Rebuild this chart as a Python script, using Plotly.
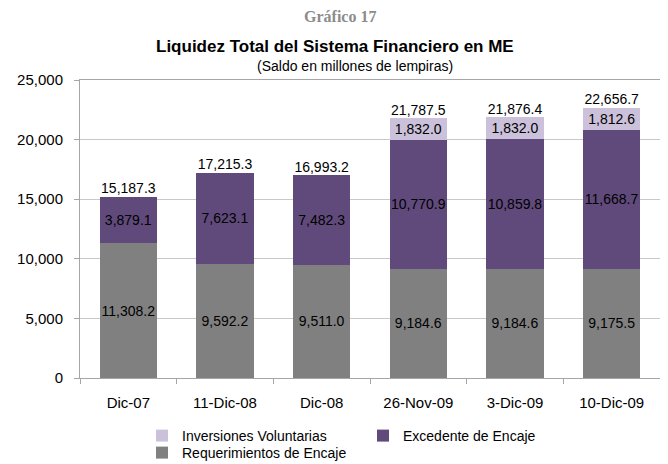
import plotly.graph_objects as go

# datos del grafico (millones de lempiras)
fechas = ['Dic-07', '11-Dic-08', 'Dic-08', '26-Nov-09', '3-Dic-09', '10-Dic-09']
requerimientos = [11308.2, 9592.2, 9511.0, 9184.6, 9184.6, 9175.5]
excedente = [3879.1, 7623.1, 7482.3, 10770.9, 10859.8, 11668.7]
inversiones = [None, None, None, 1832.0, 1832.0, 1812.6]
totales = [15187.3, 17215.3, 16993.2, 21787.5, 21876.4, 22656.7]
y_ticks = [0, 5000, 10000, 15000, 20000, 25000]

fuente = 'Liberation Sans, Arial, sans-serif'
gris = '#808080'
morado = '#604A7B'
lila = '#CCC1DA'

fig = go.Figure()
fig.add_trace(
    go.Bar(x=fechas, y=requerimientos, name='Requerimientos de Encaje',
           marker=dict(color=gris, line=dict(width=0)),
           texttemplate='%{y:,.1f}', textposition='inside', insidetextanchor='middle',
           textangle=0, constraintext='none',
           textfont=dict(color='black', size=14), legend='legend2')
)
fig.add_trace(
    go.Bar(x=fechas, y=excedente, name='Excedente de Encaje',
           marker=dict(color=morado, line=dict(width=0)),
           texttemplate='%{y:,.1f}', textposition='inside', insidetextanchor='middle',
           textangle=0, constraintext='none',
           textfont=dict(color='black', size=14), legendrank=2)
)
fig.add_trace(
    go.Bar(x=fechas, y=inversiones, name='Inversiones Voluntarias',
           marker=dict(color=lila, line=dict(width=0)),
           texttemplate='%{y:,.1f}', textposition='inside', insidetextanchor='middle',
           textangle=0, constraintext='none',
           textfont=dict(color='black', size=14), legendrank=1)
)
fig.add_trace(
    go.Scatter(x=fechas, y=totales, mode='text', text=[f'{t:,.1f}' for t in totales],
               textposition='top center', textfont=dict(color='black', size=14),
               showlegend=False, hoverinfo='skip')
)

# la pagina deja 8px de margen, el area del grafico queda en 80..660 x 80..378
alto_plot = 298
ancho_plot = 580

def px_x(p):
    return (p - 80) / ancho_plot

def px_y(p):
    return 1 + (80 - p) / alto_plot

fig.update_layout(
    width=660, height=456,
    barmode='stack', bargap=0.41,
    font=dict(family=fuente, size=14, color='black'),
    paper_bgcolor='white', plot_bgcolor='white',
    margin=dict(l=72, r=8, t=72, b=86, autoexpand=False),
    legend=dict(orientation='h', x=px_x(142), xanchor='left', y=px_y(436), yanchor='middle',
                entrywidth=176, font=dict(size=14), traceorder='normal',
                bgcolor='rgba(0,0,0,0)'),
    legend2=dict(orientation='h', x=px_x(142), xanchor='left', y=px_y(453), yanchor='middle',
                 font=dict(size=14), bgcolor='rgba(0,0,0,0)'),
    annotations=[
        dict(text='<b>Gráfico 17</b>', x=px_x(340), y=px_y(16), xref='paper', yref='paper',
             xanchor='center', yanchor='middle', showarrow=False,
             font=dict(family='Liberation Serif, Times New Roman, serif',
                       size=16, color='#8C8C8C')),
        dict(text='<b>Liquidez Total del Sistema Financiero en ME</b>', x=px_x(335), y=px_y(46),
             xref='paper', yref='paper', xanchor='center', yanchor='middle',
             showarrow=False, font=dict(size=17)),
        dict(text='(Saldo en millones de lempiras)', x=px_x(355), y=px_y(66),
             xref='paper', yref='paper', xanchor='center', yanchor='middle',
             showarrow=False, font=dict(size=14)),
    ],
)

fig.update_xaxes(
    showline=True, linecolor='#A6A6A6', linewidth=1, mirror=True,
    ticks='outside', tickson='boundaries', ticklen=5, tickcolor='#A6A6A6',
    tickfont=dict(size=15), showgrid=False, ticklabelstandoff=11,
)
fig.update_yaxes(
    range=[0, 25000], tickvals=y_ticks, tickformat=',',
    showline=True, linecolor='#A6A6A6', linewidth=1, mirror=True,
    ticks='outside', ticklen=5, tickcolor='#A6A6A6',
    showgrid=True, gridcolor='#C8C8C8', gridwidth=1,
    tickfont=dict(size=15), zeroline=False, ticklabelstandoff=8,
)

fig.write_html("out.html")
